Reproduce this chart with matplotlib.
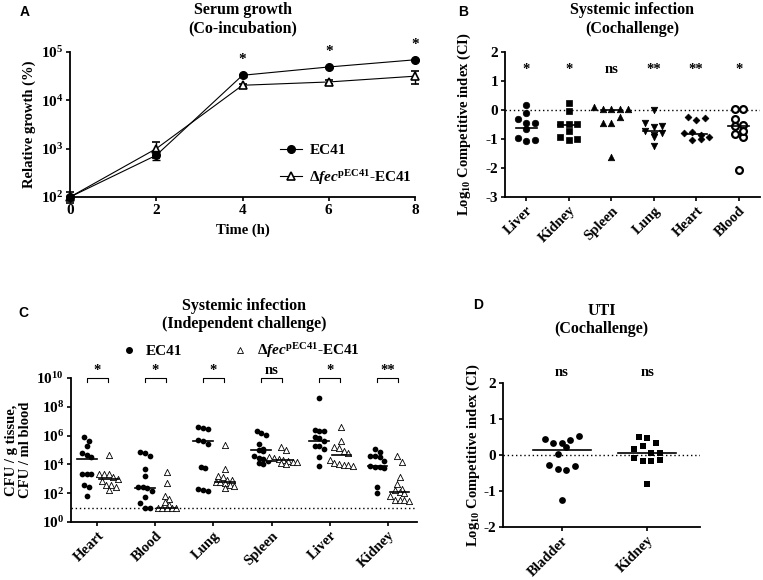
import numpy as np
import matplotlib
matplotlib.use('Agg')
import matplotlib.pyplot as plt
from matplotlib.lines import Line2D
from matplotlib.ticker import FixedLocator, FuncFormatter, NullLocator

plt.rcParams['font.family'] = ['Liberation Serif', 'DejaVu Serif']
plt.rcParams['font.weight'] = 'bold'
plt.rcParams['axes.labelweight'] = 'bold'
plt.rcParams['axes.unicode_minus'] = False
plt.rcParams['mathtext.fontset'] = 'custom'
plt.rcParams['mathtext.rm'] = 'Liberation Serif:bold'
plt.rcParams['mathtext.bf'] = 'Liberation Serif:bold'
plt.rcParams['mathtext.it'] = 'Liberation Serif:italic:bold'
plt.rcParams['mathtext.bfit'] = 'Liberation Serif:italic:bold'
plt.rcParams['mathtext.default'] = 'bf'

MUT_LABEL = r'$\Delta\mathbfit{fec}^{\mathbf{pEC41}}$-EC41'

# --- A: serum growth (co-incubation) ---
time_h = [0, 2, 4, 6, 8]
growth_wt = [100, 730, 33000, 49000, 69000]
growth_wt_err = [8, 160, 2500, 3000, 4000]
growth_mut = [100, 1000, 20500, 24000, 31600]
growth_mut_err = [25, 350, 1500, 2000, 9500]
growth_sig = ['', '', '*', '*', '*']

# --- B: systemic infection, cochallenge (log10 CI) ---
co_organs = ['Liver', 'Kidney', 'Spleen', 'Lung', 'Heart', 'Blood']
ci_liver = [0.17, -0.09, -0.31, -0.46, -0.46, -0.67, -0.95, -1.06, -1.03]
ci_kidney = [0.23, -0.03, -0.48, -0.71, -0.48, -0.48, -0.94, -1.03, -1.0]
ci_spleen = [0.1, 0.05, 0.02, 0.02, 0.05, -0.44, -0.44, -0.25, -1.63]
ci_lung = [0.0, -0.44, -0.57, -0.55, -0.71, -0.86, -0.92, -0.78, -1.24]
ci_heart = [-0.25, -0.34, -0.29, -0.8, -0.75, -0.86, -0.94, -1.03, -1.01]
ci_blood = [0.05, 0.05, -0.32, -0.55, -0.51, -0.84, -0.94, -0.71, -2.07]
ci_median = [-0.62, -0.5, 0.0, -0.71, -0.82, -0.55]
ci_sig = ['*', '*', 'ns', '**', '**', '*']

# --- C: systemic infection, independent challenge (log10 CFU) ---
ind_organs = ['Heart', 'Blood', 'Lung', 'Spleen', 'Liver', 'Kidney']
cfu_wt = [
    [5.92, 5.65, 5.28, 4.77, 4.65, 4.49, 3.33, 3.33, 3.31, 2.57, 2.45, 1.83],
    [4.88, 4.81, 4.58, 3.66, 3.19, 2.45, 2.40, 2.38, 2.17, 1.71, 1.30, 1.0, 1.0],
    [6.62, 6.55, 6.44, 5.72, 5.65, 5.42, 3.82, 3.78, 2.30, 2.22, 2.18],
    [6.35, 6.2, 6.05, 5.4, 5.1, 5.0, 4.9, 4.6, 4.45, 4.35, 4.25, 4.1, 4.05],
    [8.59, 6.39, 6.35, 6.30, 5.92, 5.85, 5.6, 5.28, 5.25, 5.05, 4.49, 3.89],
    [5.05, 4.85, 4.6, 4.55, 4.5, 4.25, 3.9, 3.85, 3.8, 3.75, 2.45, 2.0],
]
cfu_mut = [
    [4.65, 3.35, 3.33, 3.30, 3.1, 3.0, 2.85, 2.6, 2.55, 2.45, 2.22],
    [3.5, 2.73, 1.81, 1.62, 1.41, 1.18, 1.0, 1.0, 1.0, 1.0, 1.0],
    [5.35, 3.66, 3.2, 3.15, 2.95, 2.9, 2.8, 2.75, 2.7, 2.6, 2.5, 2.35],
    [5.19, 5.0, 4.5, 4.45, 4.35, 4.3, 4.25, 4.2, 4.15, 4.1, 4.05],
    [6.58, 5.63, 5.19, 5.12, 4.95, 4.8, 4.3, 4.1, 4.0, 3.95, 3.95, 3.9],
    [4.55, 4.2, 3.1, 2.62, 2.3, 2.2, 2.1, 2.0, 1.8, 1.5, 1.5, 1.5, 1.45],
]
cfu_wt_median = [4.35, 2.35, 5.6, 5.0, 5.63, 3.9]
cfu_mut_median = [3.0, 1.0, 2.76, 4.3, 4.65, 2.1]
cfu_sig = ['*', '*', '*', 'ns', '*', '**']
detection_limit = 10

# --- D: UTI cochallenge (log10 CI) ---
uti_organs = ['Bladder', 'Kidney']
uti_bladder = [0.44, 0.33, 0.33, 0.43, 0.54, 0.03, 0.21, -0.27, -0.39, -0.41, -0.31, -1.24]
uti_kidney = [0.49, 0.47, 0.33, 0.17, 0.26, 0.06, 0.06, -0.09, -0.16, -0.16, -0.13, -0.81]
uti_median = [0.13, 0.06]
uti_sig = ['ns', 'ns']


def swarm_offsets(values, tol, step):
    # graphpad-like rows: points close in y are spread side by side
    vals = np.asarray(values, dtype=float)
    order = sorted(range(len(vals)), key=lambda i: -vals[i])
    rows = []
    for i in order:
        if rows and rows[-1][0] - vals[i] <= tol:
            rows[-1][1].append(i)
        else:
            rows.append([vals[i], [i]])
    offs = np.zeros(len(vals))
    for _, idx in rows:
        idx.sort()
        n = len(idx)
        for k, i in enumerate(idx):
            offs[i] = (k - (n - 1) / 2) * step
    return offs


def style_axes(ax):
    for s in ['top', 'right']:
        ax.spines[s].set_visible(False)
    for s in ['left', 'bottom']:
        ax.spines[s].set_linewidth(1.3)
    ax.tick_params(direction='out', length=3, width=1.2, pad=2, labelsize=11)
    ax.tick_params(axis='x', labelsize=10.5)


def pow10(v, pos):
    return r'$10^{%d}$' % round(np.log10(v))


W, H = 763, 580
fig = plt.figure(figsize=(W / 100, H / 100), dpi=100)


def px_axes(left, top, right, bottom):
    return fig.add_axes([left / W, 1 - bottom / H, (right - left) / W, (bottom - top) / H])


# ---------------- A ----------------
axA = px_axes(70, 52, 415, 197)
style_axes(axA)
axA.errorbar(time_h, growth_wt, yerr=growth_wt_err, color='black', marker='o', ms=5.5,
             lw=0.8, capsize=3, elinewidth=1, clip_on=False, zorder=3)
axA.errorbar(time_h, growth_mut, yerr=growth_mut_err, color='black', marker='^', ms=6,
             mfc='white', mew=1.2, lw=0.8, capsize=3, elinewidth=1, clip_on=False, zorder=2)
axA.set_yscale('log')
axA.set_ylim(100, 1e5)
axA.set_xlim(0, 8)
axA.yaxis.set_major_locator(FixedLocator([1e2, 1e3, 1e4, 1e5]))
axA.yaxis.set_minor_locator(NullLocator())
axA.yaxis.set_major_formatter(FuncFormatter(pow10))
axA.set_xticks(time_h)
axA.tick_params(axis='x', labelsize=11)
for t, v, s in zip(time_h, growth_wt, growth_sig):
    if s:
        axA.text(t, v * 10 ** 0.32, s, ha='center', va='center', fontsize=11)
axA.set_xlabel('Time (h)', fontsize=10.5, labelpad=5)
axA.set_ylabel('Relative growth (%)', fontsize=10.5)
axA.yaxis.set_label_coords(-0.10, 0.5)
axA.set_title('Serum growth\n(Co-incubation)', fontsize=11.5, fontweight='bold', pad=14)
hA = [Line2D([], [], color='black', marker='o', ms=5.5, lw=0.8),
      Line2D([], [], color='black', marker='^', ms=6, mfc='white', mew=1.2, lw=0.8)]
axA.legend(hA, ['EC41', MUT_LABEL], loc='center left', bbox_to_anchor=(0.57, 0.22),
           frameon=False, fontsize=11, handlelength=1.4, handletextpad=0.5, labelspacing=0.7)

# ---------------- B ----------------
axB = px_axes(505, 52, 760, 197)
style_axes(axB)
ci_values = [ci_liver, ci_kidney, ci_spleen, ci_lung, ci_heart, ci_blood]
markers_b = ['o', 's', '^', 'v', 'D', 'o']
sizes_b = [22, 22, 22, 22, 12, 24]
axB.axhline(0, color='black', lw=1, ls=(0, (1, 2)), zorder=1)
for i, vals in enumerate(ci_values):
    x = i + swarm_offsets(vals, 0.2, 0.2)
    hollow = i == 5
    axB.scatter(x, vals, marker=markers_b[i], s=sizes_b[i],
                facecolor='white' if hollow else 'black', edgecolor='black',
                linewidth=1.6 if hollow else 0.5, zorder=3)
    axB.plot([i - 0.25, i + 0.25], [ci_median[i]] * 2, color='black', lw=1.2, zorder=4)
    axB.text(i, 1.4, ci_sig[i], ha='center', va='center', fontsize=10.5)
axB.set_xlim(-0.5, 5.5)
axB.set_ylim(-3, 2)
axB.set_yticks(range(-3, 3))
axB.set_xticks(range(len(co_organs)))
axB.set_xticklabels(co_organs, rotation=45, ha='right', rotation_mode='anchor')
axB.set_ylabel(r'Log$_{10}$ Competitive index (CI)', fontsize=10.5)
axB.yaxis.set_label_coords(-0.125, 0.5)
axB.set_title('Systemic infection\n(Cochallenge)', fontsize=11.5, fontweight='bold', pad=14)

# ---------------- C ----------------
axC = px_axes(71, 378, 417, 522)
style_axes(axC)
axC.set_yscale('log')
axC.axhline(detection_limit, color='black', lw=1, ls=(0, (1, 2)), zorder=1)
for i in range(len(ind_organs)):
    xw = i - 0.18 + swarm_offsets(cfu_wt[i], 0.4, 0.08)
    xm = i + 0.2 + swarm_offsets(cfu_mut[i], 0.4, 0.08)
    axC.scatter(xw, 10 ** np.array(cfu_wt[i]), marker='o', s=17, color='black', lw=0, zorder=3)
    axC.scatter(xm, 10 ** np.array(cfu_mut[i]), marker='^', s=20, facecolor='white',
                edgecolor='black', linewidth=0.6, zorder=3)
    axC.plot([i - 0.35, i - 0.01], [10 ** cfu_wt_median[i]] * 2, color='black', lw=1.2, zorder=4)
    axC.plot([i + 0.03, i + 0.37], [10 ** cfu_mut_median[i]] * 2, color='black', lw=1.2, zorder=4)
    # bracket with significance
    axC.plot([i - 0.18, i - 0.18, i + 0.18, i + 0.18], [10 ** 9.75, 1e10, 1e10, 10 ** 9.75],
             color='black', lw=0.8, clip_on=False)
    axC.text(i, 10 ** 10.05, cfu_sig[i], ha='center', va='bottom', fontsize=10.5, clip_on=False)
axC.set_xlim(-0.45, 5.5)
axC.set_ylim(1, 1e10)
axC.yaxis.set_major_locator(FixedLocator([1e0, 1e2, 1e4, 1e6, 1e8, 1e10]))
axC.yaxis.set_minor_locator(NullLocator())
axC.yaxis.set_major_formatter(FuncFormatter(pow10))
axC.set_xticks(range(len(ind_organs)))
axC.set_xticklabels(ind_organs, rotation=45, ha='right', rotation_mode='anchor')
axC.set_ylabel('CFU / g tissue,\nCFU / ml blood', fontsize=10.5, linespacing=1.1)
axC.yaxis.set_label_coords(-0.113, 0.5)
axC.set_title('Systemic infection\n(Independent challenge)', fontsize=11.5, fontweight='bold', pad=36)
hC = [Line2D([], [], ls='none', marker='o', ms=4, color='black'),
      Line2D([], [], ls='none', marker='^', ms=4.5, mfc='white', mec='black', mew=0.6)]
axC.legend(hC, ['EC41', MUT_LABEL], loc='center', bbox_to_anchor=(0.49, 1.19), ncol=2,
           frameon=False, fontsize=11, handlelength=1.0, handletextpad=0.6, columnspacing=3.3)

# ---------------- D ----------------
axD = px_axes(503, 383, 700, 527)
style_axes(axD)
uti_values = [uti_bladder, uti_kidney]
axD.axhline(0, color='black', lw=1, ls=(0, (1, 2)), zorder=1)
for i, vals in enumerate(uti_values):
    x = i + swarm_offsets(vals, 0.22, 0.1)
    axD.scatter(x, vals, marker='os'[i], s=24, color='black', lw=0, zorder=3)
    axD.plot([i - 0.34, i + 0.34], [uti_median[i]] * 2, color='black', lw=1.2, zorder=4)
    axD.text(i, 2.3, uti_sig[i], ha='center', va='center', fontsize=10.5, clip_on=False)
axD.set_xlim(-0.69, 1.62)
axD.set_ylim(-2, 2)
axD.set_yticks(range(-2, 3))
axD.set_xticks(range(len(uti_organs)))
axD.set_xticklabels(uti_organs, rotation=45, ha='right', rotation_mode='anchor')
axD.set_ylabel(r'Log$_{10}$ Competitive index (CI)', fontsize=10.5)
axD.yaxis.set_label_coords(-0.105, 0.5)
axD.set_title('UTI\n(Cochallenge)', fontsize=11.5, fontweight='bold', pad=36)

# panel letters
for letter, (x, y) in zip('ABCD', [(25, 12), (463, 12), (23, 313), (478, 305)]):
    fig.text(x / W, 1 - y / H, letter, fontsize=10, fontweight='bold',
             family='Liberation Sans', ha='center', va='center')

fig.savefig('out.png', dpi=100)
